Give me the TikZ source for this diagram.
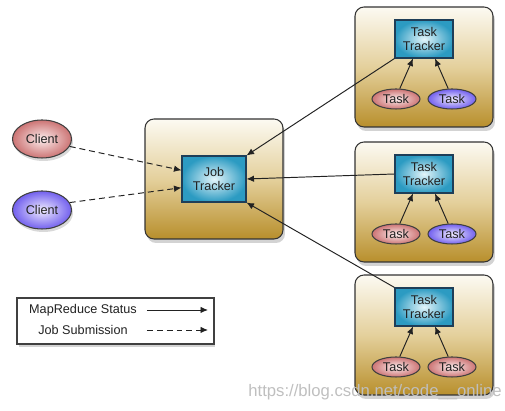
\documentclass[tikz,border=0pt]{standalone}
\usepackage{fontspec}
\setmainfont{Liberation Sans}
\usetikzlibrary{positioning,shadows,arrows.meta,shapes.geometric}
\definecolor{cGoldTop}{HTML}{FCFAF2}
\definecolor{cGoldMid}{HTML}{E4D09C}
\definecolor{cGoldBot}{HTML}{B88F2C}
\definecolor{cCyanIn}{HTML}{E4F5FA}
\definecolor{cCyanOut}{HTML}{2C9BC2}
\definecolor{cNavy}{HTML}{1E3E58}
\definecolor{cRoseIn}{HTML}{FCEDED}
\definecolor{cRoseOut}{HTML}{CC7474}
\definecolor{cVioIn}{HTML}{F0ECFF}
\definecolor{cVioOut}{HTML}{7260EE}
\definecolor{cInk}{HTML}{222222}
\tikzset{
  txt/.style={font=\fontsize{7.2}{8}\selectfont,text=cInk},
  hostbox/.style={rectangle,rounded corners=0.18cm,draw=black!80,line width=0.6pt,minimum width=2.76cm,minimum height=2.4cm,top color=cGoldTop,bottom color=cGoldBot,middle color=cGoldMid,drop shadow={shadow xshift=0.04cm,shadow yshift=-0.08cm,opacity=0.35}},
  tracker/.style={txt,rectangle,draw=cNavy,line width=0.6pt,align=center,inner sep=0pt,inner color=cCyanIn,outer color=cCyanOut},
  client/.style={txt,ellipse,draw=black!75,line width=0.6pt,minimum width=1.18cm,minimum height=0.76cm,inner sep=0pt,drop shadow={shadow xshift=0.03cm,shadow yshift=-0.06cm,opacity=0.3}},
  task/.style={txt,ellipse,draw=black!75,line width=0.6pt,minimum width=0.96cm,minimum height=0.4cm,inner sep=0pt},
  rose/.style={inner color=cRoseIn,outer color=cRoseOut},
  violet/.style={inner color=cVioIn,outer color=cVioOut},
  status/.style={-{Latex[length=1.5mm,width=1.3mm]},line width=0.55pt,cInk},
  submit/.style={status,dash pattern=on 3.4pt off 2.2pt},
}

\begin{document}
\begin{tikzpicture}[x=0.02cm,y=-0.02cm]
  \useasboundingbox (0,0) rectangle (505,411);
  % job tracker host
  \node[hostbox] (host) at (214,179) {};
  \node[tracker,minimum width=1.28cm,minimum height=0.92cm] (jt) at (214,179) {Job\\Tracker};
  % clients
  \node[client,rose] (c1) at (42,139) {Client};
  \node[client,violet] (c2) at (42,210) {Client};
  % task tracker hosts
  \foreach \k/\y/\st in {1/67/violet,2/202/violet,3/335/rose} {
    \node[hostbox] (h\k) at (424,\y) {};
    \node[tracker,minimum width=1.16cm,minimum height=0.76cm] (tt\k) at (424,\y-28) {Task\\Tracker};
    \node[task,rose] (ta\k) at (396,\y+32) {Task};
    \node[task,\st] (tb\k) at (452,\y+32) {Task};
    \draw[status] (ta\k.70) -- ([xshift=-0.22cm]tt\k.south);
    \draw[status] (tb\k.110) -- ([xshift=0.22cm]tt\k.south);
  }
  % status and submission
  \draw[status] (tt1.south west) -- (jt.north east);
  \draw[status] (tt2.west) -- (jt.east);
  \draw[status] (tt3.north west) -- (jt.south east);
  \draw[submit] (c1.-15) -- (jt.165);
  \draw[submit] (c2.15) -- (jt.195);
  % legend
  \node[rectangle,draw=black!75,line width=0.6pt,fill=white,minimum width=3.94cm,minimum height=0.92cm,drop shadow={shadow xshift=0.03cm,shadow yshift=-0.06cm,opacity=0.35}] (leg) at (115.5,321) {};
  \node[txt] (l1) at (83,310) {MapReduce Status};
  \node[txt] (l2) at (83,330) {Job Submission};
  \coordinate (s1) at (147,310);
  \coordinate (e1) at (208,310);
  \coordinate (s2) at (147,330);
  \coordinate (e2) at (208,330);
  \draw[status] (s1) -- (e1);
  \draw[submit] (s2) -- (e2);
  \node[font=\fontsize{9.5}{10}\selectfont,text=black!25] (wm) at (375,392) {https://blog.csdn.net/code\_\_online};
\end{tikzpicture}
\end{document}
